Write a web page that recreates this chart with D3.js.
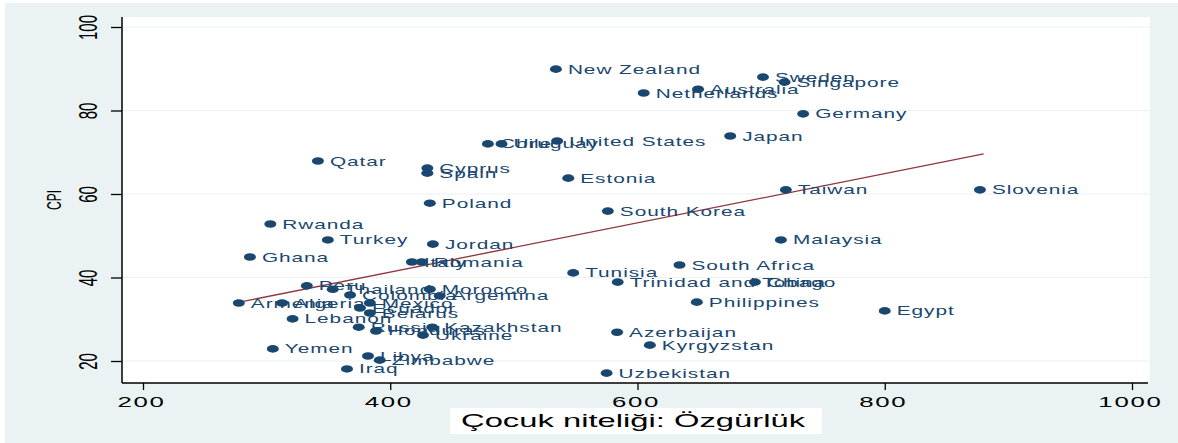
<!DOCTYPE html>
<html>
<head>
<meta charset="utf-8">
<script src="https://cdn.jsdelivr.net/npm/d3@7"></script>
<style>
  html, body { margin: 0; padding: 0; background: #fff; }
  svg { display: block; font-family: "Liberation Sans", Arial, sans-serif; }
</style>
</head>
<body>
<script>
// ülkeler, x = çocuk niteliği: özgürlük, y = CPI
const countries = ["New Zealand", "Sweden", "Singapore", "Australia", "Netherlands", "Germany", "Japan",
  "Chile", "Uruguay", "United States", "Qatar", "Cyprus", "Spain", "Estonia", "Poland", "South Korea",
  "Taiwan", "Slovenia", "Rwanda", "Turkey", "Ghana", "Jordan", "Malaysia", "Italy", "Romania", "Tunisia",
  "South Africa", "Trinidad and Tobago", "China", "Philippines", "Egypt", "Azerbaijan", "Kyrgyzstan",
  "Uzbekistan", "Peru", "Thailand", "Colombia", "Morocco", "Argentina", "Mexico", "Armenia", "Algeria",
  "Lebanon", "Yemen", "Iraq", "Libya", "Zimbabwe", "Ecuador", "Belarus", "Russia", "Honduras",
  "Kazakhstan", "Ukraine"];
const freedom = [534, 701.5, 719, 649, 605, 734, 675,
  479, 490, 535, 341.5, 430, 430, 544, 432, 576,
  720, 877, 303, 349.5, 286.5, 434.5, 716, 417.5, 425.5, 548,
  634, 584, 695, 648, 800, 583.5, 610,
  575, 332.5, 353.5, 367.5, 432, 440, 383.5, 277.5, 312.5,
  321, 305, 365, 382, 391.5, 375.5, 383.5, 374.5, 388.5,
  434, 426.5];
const cpi = [89.9, 88, 86.8, 85.1, 84.2, 79.2, 73.9,
  72, 72, 72.7, 67.9, 66.2, 65, 63.8, 57.8, 55.9,
  61, 61, 52.8, 49, 44.9, 48, 49, 43.7, 43.7, 41.1,
  43, 38.9, 38.9, 34.1, 32, 26.9, 23.8,
  17.1, 38, 37.2, 35.8, 37.2, 35.6, 33.9, 33.9, 33.9,
  30.1, 22.9, 18.1, 21.2, 20.2, 32.7, 31.5, 28.1, 27.2,
  28.1, 26.2];

// doğrusal uyum çizgisi (uç noktalar)
const fitX = [278, 880];
const fitY = [34.1, 69.6];

const xTicks = [200, 400, 600, 800, 1000];
const yTicks = [20, 40, 60, 80, 100];

const W = 1178, H = 443;
const plot = { left: 122, right: 1150, top: 17, bottom: 383 };
const navy = "#1a476f";
const stretch = 1.72; // yatay gerilmiş yazı

const x = d3.scaleLinear().domain([200, 1000]).range([143, 1132]);
const y = d3.scaleLinear().domain([20, 100]).range([361, 27]);

const svg = d3.select("body").append("svg").attr("width", W).attr("height", H);

// arka plan
svg.append("rect").attr("width", W).attr("height", H).attr("fill", "#fff");
svg.append("rect").attr("x", 5).attr("y", 3).attr("width", W - 5).attr("height", H - 3).attr("fill", "#eaf2f3");
svg.append("rect")
  .attr("x", plot.left).attr("y", plot.top)
  .attr("width", plot.right - plot.left).attr("height", plot.bottom - plot.top)
  .attr("fill", "#fff");

// yatay ızgara
svg.append("g").selectAll("line")
  .data(yTicks)
  .join("line")
  .attr("x1", plot.left).attr("x2", plot.right)
  .attr("y1", (d) => y(d)).attr("y2", (d) => y(d))
  .attr("stroke", "#eaf2f3").attr("stroke-width", 1.2);

// eksenler
const yAxis = svg.append("g")
  .attr("transform", `translate(${plot.left},0)`)
  .call(d3.axisLeft(y).tickValues(yTicks).tickFormat(d3.format("d")).tickSize(11).tickSizeOuter(0));
yAxis.select(".domain").remove();
yAxis.selectAll(".tick line").attr("stroke", "#000").attr("stroke-width", 1.3);
yAxis.selectAll(".tick text")
  .attr("x", null).attr("dy", "0.35em")
  .attr("fill", "#000").attr("font-size", 15).attr("text-anchor", "middle")
  .attr("font-family", "Liberation Sans, Arial, sans-serif")
  .attr("transform", `translate(-34,0) scale(${stretch},1) rotate(-90)`);

const xAxis = svg.append("g")
  .attr("transform", `translate(0,${plot.bottom})`)
  .call(d3.axisBottom(x).tickValues(xTicks).tickFormat(d3.format("d")).tickSize(7).tickSizeOuter(0));
xAxis.select(".domain").remove();
xAxis.selectAll(".tick line").attr("stroke", "#000").attr("stroke-width", 1.3);
xAxis.selectAll(".tick text")
  .attr("y", null).attr("dy", "0.35em")
  .attr("fill", "#000").attr("font-size", 15).attr("text-anchor", "middle")
  .attr("font-family", "Liberation Sans, Arial, sans-serif")
  .attr("letter-spacing", 1)
  .attr("transform", `translate(-2,19) scale(${stretch},1)`);

svg.append("line")
  .attr("x1", plot.left).attr("x2", plot.left)
  .attr("y1", plot.top).attr("y2", plot.bottom)
  .attr("stroke", "#000").attr("stroke-width", 1.5);
svg.append("line")
  .attr("x1", plot.left).attr("x2", plot.right - 2)
  .attr("y1", plot.bottom).attr("y2", plot.bottom)
  .attr("stroke", "#000").attr("stroke-width", 1.5);

// eksen başlıkları
const xTitle = svg.append("g").attr("transform", `translate(636,421)`);
xTitle.append("rect").attr("x", -186).attr("y", -13).attr("width", 372).attr("height", 26).attr("fill", "#fff");
xTitle.append("text")
  .attr("text-anchor", "middle").attr("dy", "0.35em")
  .attr("font-size", 18).attr("fill", "#000")
  .attr("transform", `translate(-3,0) scale(1.82,1)`)
  .text("Çocuk niteliği: Özgürlük");

svg.append("text")
  .attr("text-anchor", "middle").attr("dy", "0.35em")
  .attr("font-size", 12).attr("fill", "#000")
  .attr("transform", `translate(54,200) scale(${stretch},1) rotate(-90)`)
  .text("CPI");

// uyum çizgisi
svg.append("line")
  .attr("x1", x(fitX[0])).attr("y1", y(fitY[0]))
  .attr("x2", x(fitX[1])).attr("y2", y(fitY[1]))
  .attr("stroke", "#90353b").attr("stroke-width", 1.3);

// noktalar ve etiketler
const points = countries.map((name, i) => ({ name, fx: freedom[i], cpi: cpi[i] }));

const node = svg.append("g")
  .selectAll("g")
  .data(points)
  .join("g")
  .attr("transform", (d) => `translate(${x(d.fx)},${y(d.cpi)})`);

node.append("ellipse")
  .attr("rx", 6).attr("ry", 3.8)
  .attr("fill", navy);

node.append("text")
  .attr("dy", "0.35em")
  .attr("font-size", 13).attr("fill", navy)
  .attr("letter-spacing", 0.6)
  .attr("transform", `translate(12,0) scale(1.6,1)`)
  .text((d) => d.name);
</script>
</body>
</html>
